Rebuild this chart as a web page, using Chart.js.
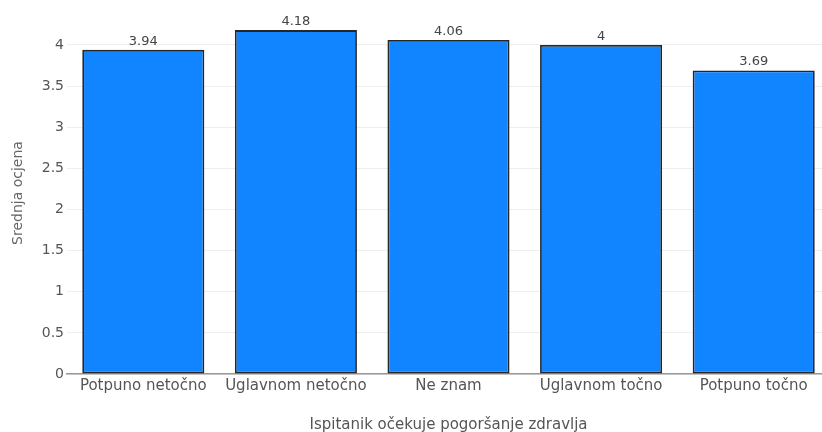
<!DOCTYPE html>
<html>
    <head>
        <meta charset="utf-8">
        <title>Srednja ocjena</title>
        <script src="https://cdn.jsdelivr.net/npm/chart.js@4/dist/chart.umd.min.js"></script>
        <style>
            body { margin: 0; overflow: hidden; background: #fff; }
            #wrap { width: 830px; height: 432px; }
        </style>
    </head>
    <body>
        <div id="wrap"><canvas id="bar-chart"></canvas></div>
        <script>
            var categories = ['Potpuno netočno', 'Uglavnom netočno', 'Ne znam', 'Uglavnom točno', 'Potpuno točno'];
            var values = [3.94, 4.18, 4.06, 4, 3.69];
            var value_labels = ['3.94', '4.18', '4.06', '4', '3.69'];

            var font_family = '"DejaVu Sans", Verdana, sans-serif';

            // labels above each bar, placed from the bar elements
            var bar_labels = {
                id: 'bar_labels',
                afterDatasetsDraw: function(chart) {
                    var ctx = chart.ctx;
                    var meta = chart.getDatasetMeta(0);
                    ctx.save();
                    ctx.font = '13px ' + font_family;
                    ctx.fillStyle = '#444';
                    ctx.textAlign = 'center';
                    ctx.textBaseline = 'bottom';
                    meta.data.forEach(function(bar, i) {
                        ctx.fillText(value_labels[i], bar.x, bar.y - 2);
                    });
                    ctx.restore();
                }
            };

            new Chart(document.getElementById('bar-chart'), {
                type: 'bar',
                data: {
                    labels: categories,
                    datasets: [{
                        data: values,
                        backgroundColor: '#1184ff',
                        borderColor: '#262626',
                        borderWidth: 1.8,
                        borderSkipped: false,
                        categoryPercentage: 1,
                        barPercentage: 0.8
                    }]
                },
                options: {
                    responsive: true,
                    maintainAspectRatio: false,
                    animation: false,
                    layout: { padding: { top: 12, right: 0, bottom: 0, left: 0 } },
                    plugins: {
                        legend: { display: false },
                        tooltip: { enabled: false }
                    },
                    scales: {
                        x: {
                            grid: { display: false, drawTicks: false },
                            border: { display: true, color: '#999', width: 1.5 },
                            ticks: { color: '#555', padding: 3, font: { family: font_family, size: 15 } },
                            title: {
                                display: true,
                                text: 'Ispitanik očekuje pogoršanje zdravlja',
                                color: '#555',
                                padding: { top: 0, bottom: -2 },
                                font: { family: font_family, size: 15 }
                            },
                            afterFit: function(scale) { scale.height = 58; }
                        },
                        y: {
                            min: 0,
                            max: 4.4,
                            grid: { color: '#eee', drawTicks: false },
                            border: { display: false },
                            ticks: {
                                stepSize: 0.5,
                                color: '#555',
                                padding: 3,
                                font: { family: font_family, size: 14 },
                                callback: function(v) { return String(Math.round(v * 10) / 10); }
                            },
                            afterBuildTicks: function(scale) {
                                scale.ticks = scale.ticks.filter(function(t) {
                                    return Math.abs(t.value * 2 - Math.round(t.value * 2)) < 1e-6;
                                });
                            },
                            title: {
                                display: true,
                                text: 'Srednja ocjena',
                                color: '#666',
                                padding: { top: 10, bottom: 0 },
                                font: { family: font_family, size: 14 }
                            },
                            afterFit: function(scale) { scale.width = 67; }
                        }
                    }
                },
                plugins: [bar_labels]
            });
        </script>
    </body>
</html>
